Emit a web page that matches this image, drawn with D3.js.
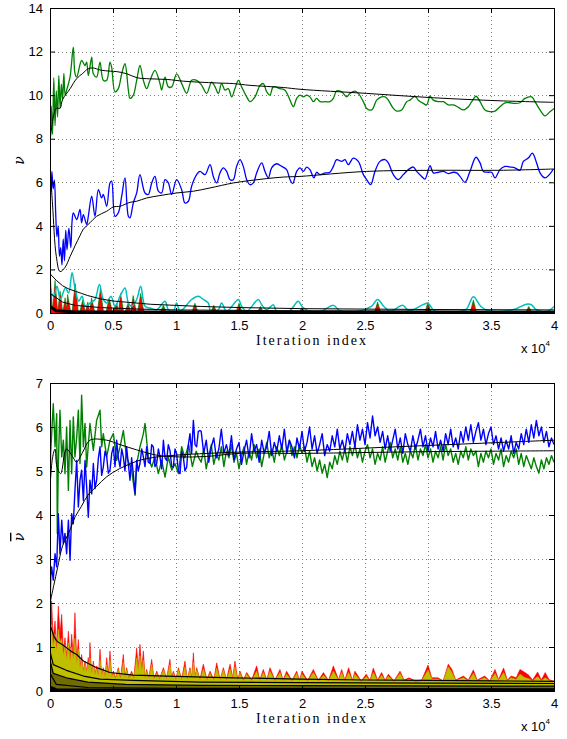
<!DOCTYPE html>
<meta charset="utf-8">
<style>
body { margin: 0; background: #fff; }
.tick text { font-family: "Liberation Sans", Arial, sans-serif; font-size: 13px; fill: #000; }
.tick line { stroke: #000; }
.grid { stroke: #7f7f7f; stroke-dasharray: 1,3; shape-rendering: crispEdges; }
.box { fill: none; stroke: #000; stroke-width: 1; shape-rendering: crispEdges; }
.xlabel { font-family: "Liberation Serif", "DejaVu Serif", serif; font-size: 14px; letter-spacing: 2px; }
.expo { font-family: "Liberation Sans", Arial, sans-serif; font-size: 13px; }
.ylabel { font-family: "DejaVu Serif", serif; font-style: italic; font-size: 14px; }
</style>
<svg width="567" height="739"></svg>
<script src="https://d3js.org/d3.v7.min.js"></script>
<script>

// ---- data (x in units of 10^4 iterations) ----
var xTicks = [0, 0.5, 1, 1.5, 2, 2.5, 3, 3.5, 4];
var xTickLabels = ["0", "0.5", "1", "1.5", "2", "2.5", "3", "3.5", "4"];
var yTicksTop = [0, 2, 4, 6, 8, 10, 12, 14];
var yTicksBot = [0, 1, 2, 3, 4, 5, 6, 7];

// top panel: nu
var nuGreen = [[0,7.8],[0.01,9.5],[0.02,8.2],[0.03,10.8],[0.04,8.6],[0.05,10.2],[0.06,9.0],[0.07,10.9],[0.08,9.4],[0.09,10.5],[0.1,9.8],[0.11,11.0],[0.12,10.0],
  [0.132,10.23],[0.159,10.83],[0.185,12.2],[0.198,11.0],[0.212,10.83],[0.251,11.59],[0.278,11.36],[0.291,11.52],[0.304,10.9],[0.331,11.74],[0.344,10.98],[0.37,10.83],
  [0.397,11.52],[0.423,10.68],[0.45,10.68],[0.476,11.52],[0.489,11.29],[0.516,10.15],[0.542,10.3],[0.569,10.98],[0.595,11.44],[0.622,10.23],[0.635,9.85],[0.661,10.0],
  [0.688,10.68],[0.714,11.36],[0.741,10.68],[0.767,10.3],[0.794,10.68],[0.833,11.14],[0.873,10.53],[0.886,10.23],[0.913,10.83],[0.939,10.38],[0.966,10.38],[1.005,10.98],
  [1.045,10.53],[1.085,10.08],[1.124,10.68],[1.164,10.68],[1.204,10.45],[1.243,10.08],[1.283,10.6],[1.31,10.38],[1.336,10.08],[1.362,10.53],[1.389,10.23],[1.415,10.3],
  [1.442,9.92],[1.468,10.3],[1.495,10.68],[1.521,10.38],[1.561,9.92],[1.587,9.7],[1.627,9.92],[1.667,10.45],[1.693,10.53],[1.72,10.15],[1.746,10.0],[1.772,10.38],
  [1.825,10.3],[1.865,10.23],[1.905,9.77],[1.931,9.47],[1.958,9.85],[1.984,10.0],[2.011,9.92],[2.037,10.0],[2.063,9.92],[2.09,9.7],[2.116,9.85],[2.143,9.7],[2.183,9.7],
  [2.222,9.7],[2.249,9.85],[2.275,10.2],[2.315,10.15],[2.354,9.92],[2.381,10.08],[2.421,10.18],[2.447,10.08],[2.487,9.7],[2.513,9.39],[2.553,9.32],[2.593,9.77],
  [2.632,9.92],[2.659,9.92],[2.685,9.77],[2.725,9.39],[2.751,9.27],[2.791,9.32],[2.831,9.7],[2.857,9.77],[2.897,9.95],[2.923,9.77],[2.963,9.62],[2.989,9.55],[3.016,9.95],
  [3.042,9.77],[3.082,9.7],[3.122,9.7],[3.161,9.55],[3.201,9.55],[3.241,9.44],[3.28,9.32],[3.32,9.47],[3.347,9.7],[3.381,9.95],[3.413,9.7],[3.452,9.32],[3.492,9.24],
  [3.532,9.27],[3.571,9.47],[3.611,9.65],[3.651,9.65],[3.69,9.62],[3.73,9.65],[3.77,9.85],[3.823,9.92],[3.849,9.7],[3.889,9.32],[3.929,9.05],[3.968,9.24],[4.0,9.39]];

var nuGreenMean = [[0,7.8],[0.02,8.8],[0.05,9.4],[0.08,9.4],[0.1,9.8],[0.16,10.3],[0.21,10.75],[0.26,11.0],[0.3,11.2],[0.34,11.25],[0.4,11.15],[0.48,11.1],
  [0.53,11.08],[0.61,10.98],[0.69,10.8],[0.79,10.75],[0.93,10.72],[1.06,10.64],[1.32,10.56],[1.455,10.53],[1.587,10.45],[1.852,10.35],[1.984,10.27],
  [2.513,10.08],[3.042,9.88],[3.571,9.74],[4.0,9.67]];

var nuBlue = [[0,6.3],[0.01,5.6],[0.015,6.5],[0.025,5.7],[0.035,6.1],[0.045,4.6],[0.055,3.5],[0.065,4.0],[0.075,2.6],[0.085,3.0],[0.095,2.2],[0.105,3.4],
  [0.115,2.4],[0.125,3.8],[0.135,2.9],[0.15,3.9],[0.165,3.0],[0.175,4.2],[0.185,4.6],[0.212,4.29],[0.238,4.75],[0.251,4.14],[0.265,4.52],[0.291,4.06],[0.304,4.44],
  [0.331,5.36],[0.357,4.44],[0.384,5.66],[0.41,5.28],[0.423,5.44],[0.45,4.9],[0.476,5.97],[0.489,6.05],[0.516,4.44],[0.542,4.6],[0.569,5.36],[0.595,6.2],[0.622,4.44],
  [0.635,4.37],[0.661,5.05],[0.688,5.51],[0.714,6.35],[0.754,5.51],[0.78,5.44],[0.807,5.97],[0.833,6.27],[0.86,5.59],[0.886,5.51],[0.913,6.12],[0.939,5.97],[0.966,5.44],
  [1.005,6.12],[1.045,5.66],[1.071,5.05],[1.098,5.13],[1.124,5.82],[1.164,6.35],[1.19,6.5],[1.23,6.35],[1.27,6.81],[1.296,6.27],[1.323,5.97],[1.349,6.43],[1.376,6.66],
  [1.402,6.5],[1.429,6.12],[1.455,6.12],[1.481,6.73],[1.508,7.04],[1.534,6.73],[1.561,6.12],[1.587,5.89],[1.614,5.97],[1.64,6.43],[1.68,6.89],[1.706,6.5],[1.733,6.2],
  [1.759,6.66],[1.799,6.85],[1.839,6.73],[1.878,6.58],[1.905,6.12],[1.926,5.94],[1.958,6.5],[1.984,6.66],[2.011,6.5],[2.037,6.7],[2.063,6.58],[2.095,6.2],[2.116,6.46],
  [2.143,6.35],[2.183,6.43],[2.222,6.46],[2.249,6.73],[2.275,7.04],[2.315,6.96],[2.341,7.04],[2.368,6.81],[2.407,7.11],[2.447,6.96],[2.487,6.35],[2.513,6.12],[2.545,5.89],
  [2.579,6.5],[2.619,6.96],[2.659,7.04],[2.685,6.89],[2.725,6.35],[2.765,6.12],[2.804,6.35],[2.844,6.58],[2.884,6.7],[2.91,6.5],[2.95,6.27],[2.976,6.15],[3.016,6.76],
  [3.042,6.43],[3.082,6.46],[3.122,6.5],[3.161,6.4],[3.201,6.46],[3.228,6.43],[3.254,6.27],[3.294,6.0],[3.333,6.5],[3.381,7.15],[3.413,6.89],[3.439,6.5],[3.479,6.46],
  [3.505,6.46],[3.532,6.2],[3.571,6.58],[3.611,6.73],[3.651,6.7],[3.69,6.66],[3.73,6.55],[3.757,6.96],[3.796,7.11],[3.828,7.34],[3.862,6.89],[3.889,6.43],[3.929,6.2],
  [3.963,6.35],[3.995,6.61]];

var nuBlueMean = [[0,6.8],[0.02,5.0],[0.05,2.6],[0.08,1.9],[0.12,2.1],[0.16,2.6],[0.2,3.1],[0.238,3.55],[0.265,3.85],[0.317,4.14],[0.37,4.44],[0.45,4.67],
  [0.503,4.87],[0.556,4.9],[0.635,5.08],[0.688,5.13],[0.767,5.28],[0.873,5.39],[1.005,5.51],[1.138,5.59],[1.27,5.74],[1.455,5.97],[1.587,6.08],[1.72,6.17],
  [1.852,6.24],[1.984,6.27],[2.513,6.5],[3.042,6.55],[3.571,6.55],[4.0,6.61]];

var nuCyan = [[0,1.6],[0.004,1.08],[0.03,0.77],[0.056,1.23],[0.082,0.62],[0.122,1.15],[0.148,0.92],[0.175,1.85],[0.2,1.08],[0.228,0.54],[0.254,0.77],[0.28,0.31],
  [0.32,0.46],[0.357,0.62],[0.392,1.31],[0.423,0.62],[0.45,0.46],[0.484,0.77],[0.516,0.31],[0.556,0.77],[0.595,1.15],[0.622,0.46],[0.648,0.31],[0.688,0.62],[0.72,1.23],
  [0.754,0.31],[0.794,0.23],[0.847,0.15],[0.913,0.54],[0.939,0.15],[0.979,0.08],[1.005,0.46],[1.032,0.08],[1.124,0.62],[1.177,0.77],[1.217,0.62],[1.257,0.46],[1.275,0.08],
  [1.336,0.15],[1.362,0.46],[1.402,0.08],[1.495,0.62],[1.521,0.31],[1.561,0.08],[1.653,0.62],[1.68,0.38],[1.72,0.15],[1.772,0.38],[1.799,0.08],[1.9,0.1],[1.97,0.54],
  [2.0,0.3],[2.05,0.1],[2.15,0.08],[2.25,0.35],[2.3,0.1],[2.45,0.08],[2.55,0.3],[2.6,0.62],[2.65,0.3],[2.7,0.08],[2.8,0.35],[2.85,0.1],[3.0,0.44],[3.05,0.1],[3.2,0.05],
  [3.3,0.15],[3.36,0.75],[3.42,0.3],[3.48,0.1],[3.6,0.08],[3.7,0.2],[3.78,0.4],[3.82,0.38],[3.86,0.15],[3.95,0.08],[4.0,0.3]];

var nuRedLow = [[0,1.5],[0.02,0.05],[0.022,0.05],[0.04,1.2],[0.058,0.05],[0.064,0.05],[0.08,0.8],[0.096,0.05],[0.106,0.05],[0.12,0.5],[0.13,0.1],[0.14,0.6],
  [0.16,0.03],[0.18,0.03],[0.2,1.1],[0.22,0.03],[0.24,0.03],[0.26,0.4],[0.28,0.03],[0.3,0.3],[0.315,0.03],[0.33,0.5],[0.35,0.03],[0.38,0.03],
  [0.4,0.9],[0.42,0.03],[0.45,0.03],[0.47,0.5],[0.49,0.03],[0.53,0.3],[0.545,0.03],[0.56,0.7],[0.58,0.03],[0.6,0.03],[0.62,0.3],[0.64,0.03],
  [0.66,0.6],[0.68,0.03],[0.7,0.03],[0.72,0.7],[0.74,0.03],[0.88,0.03],[0.9,0.2],[0.92,0.02],[1.13,0.02],[1.15,0.3],[1.17,0.02],[1.28,0.02],[1.3,0.25],
  [1.32,0.02],[1.48,0.02],[1.5,0.3],[1.52,0.02],[1.65,0.02],[1.67,0.2],[1.69,0.02],[1.98,0.02],[2.0,0.15],[2.02,0.02],[2.58,0.02],[2.6,0.4],[2.62,0.02],[2.98,0.02],
  [3.0,0.35],[3.02,0.02],[3.34,0.02],[3.36,0.45],[3.38,0.02],[3.78,0.02],[3.8,0.2],[3.82,0.02],[4,0.05]];

var nuGreenLow = [[0,1.9],[0.02,0.08],[0.022,0.08],[0.04,1.5],[0.06,0.08],[0.062,0.08],[0.08,1.0],[0.1,0.08],[0.104,0.08],[0.12,0.7],[0.13,0.15],[0.14,0.85],
  [0.165,0.05],[0.175,0.05],[0.2,1.35],[0.225,0.05],[0.235,0.05],[0.26,0.6],[0.28,0.05],[0.3,0.5],[0.315,0.05],[0.33,0.7],[0.355,0.05],[0.375,0.05],
  [0.4,1.1],[0.425,0.05],[0.445,0.05],[0.47,0.7],[0.495,0.05],[0.53,0.45],[0.545,0.05],[0.56,0.9],[0.585,0.05],[0.595,0.05],
  [0.62,0.45],[0.64,0.05],[0.66,0.8],[0.685,0.05],[0.695,0.05],[0.72,0.9],[0.745,0.05],[0.875,0.05],[0.9,0.35],[0.925,0.03],[1.125,0.03],[1.15,0.45],
  [1.175,0.03],[1.275,0.03],[1.3,0.35],[1.325,0.03],[1.475,0.03],[1.5,0.45],[1.525,0.03],[1.645,0.03],[1.67,0.3],[1.695,0.03],[1.975,0.03],[2.0,0.25],[2.025,0.03],
  [2.575,0.03],[2.6,0.5],[2.625,0.03],[2.975,0.03],[3.0,0.5],[3.025,0.03],[3.335,0.03],[3.36,0.6],[3.385,0.03],[3.775,0.03],[3.8,0.3],[3.825,0.03],[4,0.08]];

var nuLowMeanA = [[0,1.8],[0.05,1.5],[0.1,1.25],[0.15,1.1],[0.2,1.0],[0.25,0.9],[0.3,0.8],[0.4,0.65],[0.5,0.55],[0.6,0.5],[0.7,0.45],[0.8,0.4],[1,0.35],
  [1.2,0.3],[1.5,0.25],[2,0.2],[2.5,0.18],[3,0.16],[3.5,0.15],[4,0.14]];
var nuLowMeanB = [[0,0.9],[0.1,0.5],[0.2,0.35],[0.4,0.25],[0.7,0.18],[1,0.14],[2,0.1],[4,0.07]];
var nuZero = [[0,0.3],[0.05,0.1],[0.2,0.05],[4,0.03]];

// bottom panel: nu bar
var barGreen = [[0,4.6],[0.005,5.4],[0.026,6.53],[0.04,5.55],[0.053,6.3],[0.058,3.58],[0.066,5.17],[0.079,6.38],[0.093,5.32],[0.106,5.7],[0.119,4.94],
  [0.132,6.0],[0.146,4.56],[0.159,6.15],[0.172,4.94],[0.185,6.23],[0.198,5.32],[0.212,5.77],[0.225,6.38],[0.238,5.17],[0.251,6.72],[0.265,5.55],[0.278,6.08],
  [0.291,5.09],[0.317,6.08],[0.344,5.47],[0.37,6.15],[0.397,6.38],[0.41,5.55],[0.423,5.85],[0.45,5.32],[0.476,5.7],[0.503,5.85],[0.529,5.24],[0.556,5.55],[0.582,5.92],
  [0.608,5.32],[0.648,5.02],[0.675,4.45],[0.688,5.17],[0.714,5.55],[0.741,5.85],[0.754,6.08],[0.78,5.32],[0.807,5.09],[0.833,5.32],[0.86,4.94],[0.886,5.24],[0.913,4.86],
  [0.939,5.32],[0.966,5.02],[0.992,5.17],[1.019,4.94],[1.045,5.55],[1.07,5.3],[1.1,5.6],[1.13,5.1],[1.16,5.45],[1.18,5.3],
  [1.20,5.2],[1.22,5.5],[1.24,5.05],[1.26,5.35],[1.28,5.6],[1.30,5.15],[1.32,5.4],[1.34,5.25],[1.36,5.55],[1.38,5.1],[1.40,5.45],[1.42,5.3],[1.44,5.6],[1.46,5.2],
  [1.48,5.4],[1.50,5.05],[1.52,5.35],[1.54,5.55],[1.56,5.15],[1.58,5.45],[1.60,5.25],[1.62,5.6],[1.64,5.3],[1.66,5.5],[1.68,5.1],[1.70,5.4],[1.72,5.65],[1.74,5.3],
  [1.76,5.5],[1.78,5.2],[1.80,5.55],[1.82,5.35],[1.84,5.6],[1.86,5.25],[1.88,5.45],[1.90,5.7],[1.92,5.35],[1.94,5.55],[1.96,5.3],[1.98,5.6],[2.00,5.4],[2.02,5.55],
  [2.04,5.2],[2.06,5.45],[2.08,5.1],[2.10,5.3],[2.12,5.0],[2.14,5.25],[2.16,4.95],[2.18,5.15],[2.20,4.85],[2.22,5.2],[2.24,5.05],[2.26,5.35],[2.28,5.15],[2.30,5.45],
  [2.32,5.25],[2.34,5.5],[2.36,5.2],[2.38,5.55],[2.40,5.35],[2.42,5.6],[2.44,5.3],[2.46,5.5],[2.48,5.2],[2.50,5.45],[2.52,5.6],[2.54,5.3],[2.56,5.5],[2.58,5.15],
  [2.60,5.4],[2.62,5.25],[2.64,5.55],[2.66,5.2],[2.68,5.45],[2.70,5.65],[2.72,5.3],[2.74,5.5],[2.76,5.25],[2.78,5.55],[2.80,5.2],[2.82,5.4],[2.84,5.15],[2.86,5.45],
  [2.88,5.3],[2.90,5.6],[2.92,5.25],[2.94,5.5],[2.96,5.35],[2.98,5.6],[3.00,5.3],[3.02,5.5],[3.04,5.2],[3.06,5.45],[3.08,5.3],[3.10,5.55],[3.12,5.25],[3.14,5.6],
  [3.16,5.35],[3.18,5.5],[3.20,5.2],[3.22,5.4],[3.24,5.15],[3.26,5.45],[3.28,5.3],[3.30,5.55],[3.32,5.25],[3.34,5.5],[3.36,5.35],[3.38,5.45],[3.40,5.1],[3.42,5.4],
  [3.44,5.2],[3.46,5.45],[3.48,5.3],[3.50,5.5],[3.52,5.15],[3.54,5.4],[3.56,5.25],[3.58,5.5],[3.60,5.1],[3.62,5.35],[3.64,5.2],[3.66,5.45],[3.68,5.3],[3.70,5.5],
  [3.72,5.15],[3.74,5.4],[3.76,5.1],[3.78,5.35],[3.80,5.2],[3.82,5.05],[3.84,5.3],[3.86,5.1],[3.88,4.95],[3.90,5.25],[3.92,5.05],[3.94,5.3],[3.96,5.15],[3.98,5.35],
  [4.00,5.2]];

var barBlue = [[0,2.0],[0.006,2.6],[0.013,2.82],[0.026,2.52],[0.04,3.12],[0.053,2.82],[0.066,4.03],[0.079,3.12],[0.093,3.88],[0.106,3.35],[0.119,3.58],[0.132,3.12],
  [0.146,3.88],[0.159,2.97],[0.172,4.03],[0.185,3.8],[0.198,4.56],[0.212,5.24],[0.225,4.18],[0.238,4.79],[0.251,5.02],[0.265,4.33],[0.278,5.24],[0.291,4.64],[0.304,3.95],
  [0.317,4.79],[0.331,4.48],[0.344,5.17],[0.357,4.6],[0.37,4.79],[0.384,5.3],[0.397,5.55],[0.41,4.9],[0.423,5.09],[0.437,5.45],[0.45,5.32],[0.463,4.95],[0.476,5.02],
  [0.49,5.4],[0.503,5.55],[0.516,5.1],[0.529,5.7],[0.542,5.3],[0.556,5.09],[0.569,5.5],[0.582,5.32],[0.595,5.0],[0.608,5.55],[0.62,5.2],[0.635,4.79],[0.648,5.3],
  [0.661,4.94],[0.675,4.48],[0.688,5.24],[0.7,5.0],[0.714,5.17],[0.728,5.5],[0.741,5.32],[0.754,5.1],[0.767,5.55],[0.78,5.2],[0.794,5.17],[0.807,5.6],[0.82,5.55],
  [0.833,5.1],[0.847,5.17],[0.86,5.5],[0.873,5.32],[0.886,5.05],[0.9,5.7],[0.913,5.3],[0.926,5.24],[0.939,5.6],[0.952,5.47],[0.966,5.1],[0.979,5.09],[0.992,5.5],
  [1.005,5.39],[1.019,5.0],[1.032,4.94],[1.045,5.45],[1.058,5.32],[1.071,5.0],[1.085,5.09],[1.098,5.6],[1.111,5.85],[1.124,5.4],[1.138,6.15],[1.151,5.6],[1.164,5.55],
  [1.177,5.9],[1.19,5.92],
  [1.20,5.9],[1.22,5.4],[1.24,5.7],[1.26,5.2],[1.28,5.55],[1.30,5.75],[1.32,5.3],[1.34,5.5],[1.36,5.95],[1.38,5.4],[1.40,5.6],[1.42,5.35],[1.44,5.8],[1.46,5.25],
  [1.48,5.5],[1.50,5.65],[1.52,5.15],[1.54,5.45],[1.56,5.7],[1.58,5.3],[1.60,5.85],[1.62,5.45],[1.64,5.6],[1.66,5.2],[1.68,5.7],[1.70,5.4],[1.72,5.55],[1.74,5.9],
  [1.76,5.35],[1.78,5.65],[1.80,5.45],[1.82,5.8],[1.84,5.5],[1.86,5.95],[1.88,5.4],[1.90,5.7],[1.92,5.55],[1.94,5.3],[1.96,5.75],[1.98,5.5],[2.00,5.9],[2.02,5.45],
  [2.04,5.65],[2.06,6.0],[2.08,5.5],[2.10,5.8],[2.12,5.4],[2.14,5.6],[2.16,5.85],[2.18,5.35],[2.20,5.6],[2.22,5.45],[2.24,5.8],[2.26,5.55],[2.28,5.95],[2.30,5.5],
  [2.32,5.7],[2.34,5.45],[2.36,5.85],[2.38,5.6],[2.40,5.9],[2.42,5.55],[2.44,6.05],[2.46,5.7],[2.48,5.95],[2.50,5.6],[2.52,6.1],[2.54,5.75],[2.56,6.25],[2.58,5.8],
  [2.60,6.0],[2.62,5.65],[2.64,5.9],[2.66,5.5],[2.68,5.8],[2.70,5.45],[2.72,5.7],[2.74,5.95],[2.76,5.5],[2.78,5.75],[2.80,5.4],[2.82,5.85],[2.84,5.6],[2.86,5.45],
  [2.88,5.8],[2.90,5.5],[2.92,5.7],[2.94,5.95],[2.96,5.55],[2.98,5.8],[3.00,5.45],[3.02,5.75],[3.04,5.55],[3.06,5.9],[3.08,5.5],[3.10,5.7],[3.12,5.45],[3.14,5.85],
  [3.16,5.6],[3.18,5.95],[3.20,5.55],[3.22,5.75],[3.24,5.5],[3.26,5.9],[3.28,5.65],[3.30,6.0],[3.32,5.7],[3.34,6.05],[3.36,5.65],[3.38,5.9],[3.40,6.1],[3.42,5.7],
  [3.44,5.95],[3.46,5.6],[3.48,5.85],[3.50,6.0],[3.52,5.6],[3.54,5.8],[3.56,5.5],[3.58,5.75],[3.60,5.45],[3.62,5.7],[3.64,5.5],[3.66,5.8],[3.68,5.4],[3.70,5.65],
  [3.72,5.5],[3.74,5.85],[3.76,5.6],[3.78,5.95],[3.80,5.65],[3.82,6.05],[3.84,5.75],[3.86,6.15],[3.88,5.8],[3.90,6.0],[3.92,5.65],[3.94,5.9],[3.96,5.55],[3.98,5.75],
  [4.00,5.6]];

var barGreenMean = [[0,4.6],[0.02,5.3],[0.04,5.5],[0.055,5.1],[0.085,4.94],[0.13,5.5],[0.185,5.3],[0.21,5.2],[0.26,5.43],[0.317,5.7],[0.45,5.7],[0.556,5.6],
  [0.688,5.48],[0.847,5.36],[1.03,5.32],[1.24,5.33],[1.5,5.4],[2,5.4],[2.5,5.42],[3,5.44],[3.5,5.45],[4,5.46]];
var barBlueMean = [[0,2.0],[0.03,2.4],[0.06,2.8],[0.1,3.3],[0.15,3.6],[0.2,3.96],[0.25,4.2],[0.3,4.45],[0.37,4.65],[0.45,4.87],[0.55,5.05],[0.65,5.18],
  [0.72,5.25],[0.85,5.32],[1.0,5.36],[1.25,5.4],[1.5,5.43],[2,5.46],[2.5,5.52],[3,5.58],[3.5,5.64],[4,5.7]];

var barRed = [[0,0.4],[0.005,1.9],[0.013,2.05],[0.025,1.2],[0.04,1.59],[0.052,1.0],[0.066,1.93],[0.079,1.3],[0.093,1.74],[0.106,0.9],[0.119,1.21],[0.132,0.8],
  [0.146,1.36],[0.16,0.75],[0.172,1.29],[0.185,0.8],[0.198,1.78],[0.212,0.7],[0.225,1.17],[0.238,0.55],[0.251,0.83],[0.265,0.45],[0.278,0.68],[0.29,0.45],[0.304,0.76],
  [0.31,0.45],[0.317,1.1],[0.33,0.4],[0.344,0.68],[0.357,0.38],[0.37,0.57],[0.385,0.35],[0.397,0.95],[0.41,0.35],[0.423,0.53],[0.437,0.33],[0.45,0.76],[0.463,0.35],
  [0.476,0.91],[0.49,0.33],[0.503,0.45],[0.52,0.3],[0.542,0.53],[0.56,0.3],[0.582,0.83],[0.595,0.32],[0.608,0.53],[0.625,0.3],[0.648,0.45],[0.665,0.3],[0.688,0.98],
  [0.7,0.5],[0.714,1.06],[0.728,0.5],[0.741,0.91],[0.755,0.3],[0.767,0.49],[0.785,0.3],[0.807,0.72],[0.825,0.28],[0.847,0.45],[0.87,0.28],[0.9,0.53],[0.925,0.28],
  [0.952,0.72],[0.965,0.3],[0.979,0.45],[1.0,0.27],[1.019,0.53],[1.045,0.27],[1.071,0.68],[1.09,0.27],[1.111,0.53],[1.125,0.3],[1.138,0.87],[1.15,0.3],[1.164,0.53],
  [1.19,0.27],[1.217,0.61],[1.245,0.26],[1.27,0.45],[1.3,0.26],[1.323,0.64],[1.35,0.26],[1.376,0.53],[1.4,0.26],[1.429,0.61],[1.45,0.3],[1.468,0.68],[1.49,0.26],
  [1.508,0.45],[1.535,0.25],[1.561,0.42],[1.6,0.25],[1.64,0.57],[1.665,0.25],[1.693,0.49],[1.72,0.25],[1.746,0.53],[1.785,0.25],[1.825,0.49],[1.85,0.25],[1.878,0.45],
  [1.92,0.24],[1.958,0.45],[1.98,0.24],[2.0,0.45],[2.045,0.24],[2.09,0.49],[2.13,0.24],[2.17,0.42],[2.21,0.24],[2.249,0.57],[2.29,0.26],[2.315,0.49],[2.34,0.25],
  [2.37,0.53],[2.4,0.24],[2.42,0.45],[2.47,0.23],[2.51,0.38],[2.54,0.24],[2.566,0.52],[2.6,0.25],[2.632,0.42],[2.66,0.24],[2.685,0.38],[2.73,0.23],[2.778,0.45],
  [2.81,0.25],[2.85,0.3],[2.9,0.23],[2.95,0.25],[3.0,0.59],[3.03,0.3],[3.08,0.3],[3.12,0.23],[3.161,0.61],[3.19,0.49],[3.22,0.25],[3.28,0.34],[3.32,0.25],[3.36,0.48],
  [3.39,0.25],[3.45,0.34],[3.49,0.23],[3.532,0.49],[3.56,0.26],[3.6,0.52],[3.63,0.25],[3.66,0.34],[3.7,0.3],[3.73,0.49],[3.77,0.42],[3.8,0.36],[3.83,0.25],[3.87,0.43],
  [3.9,0.25],[3.93,0.42],[3.96,0.26],[4.0,0.22]];

var barYellow = [[0,4.6],[0.004,4.6],[0.006,1.4],[0.013,1.5],[0.025,1.0],[0.04,1.3],[0.052,0.9],[0.066,1.4],[0.079,1.1],[0.093,1.2],[0.106,0.8],[0.119,1.05],
  [0.132,0.7],[0.146,1.1],[0.16,0.65],[0.172,1.0],[0.185,0.7],[0.198,1.2],[0.212,0.6],[0.225,0.95],[0.238,0.5],[0.251,0.7],[0.265,0.42],[0.278,0.6],[0.29,0.42],
  [0.304,0.65],[0.31,0.42],[0.317,0.75],[0.33,0.38],[0.344,0.6],[0.357,0.36],[0.37,0.5],[0.385,0.33],[0.397,0.7],[0.41,0.33],[0.423,0.48],[0.437,0.31],[0.45,0.6],
  [0.463,0.33],[0.476,0.7],[0.49,0.31],[0.503,0.4],[0.52,0.28],[0.542,0.48],[0.56,0.28],[0.582,0.65],[0.595,0.3],[0.608,0.48],[0.625,0.28],[0.648,0.4],[0.665,0.28],
  [0.688,0.75],[0.7,0.45],[0.714,0.8],[0.728,0.45],[0.741,0.7],[0.755,0.28],[0.767,0.44],[0.785,0.28],[0.807,0.6],[0.825,0.26],[0.847,0.4],[0.87,0.26],[0.9,0.48],
  [0.925,0.26],[0.952,0.6],[0.965,0.28],[0.979,0.4],[1.0,0.25],[1.019,0.48],[1.045,0.25],[1.071,0.55],[1.09,0.25],[1.111,0.48],[1.125,0.28],[1.138,0.65],[1.15,0.28],
  [1.164,0.48],[1.19,0.25],[1.217,0.5],[1.245,0.24],[1.27,0.4],[1.3,0.24],[1.323,0.52],[1.35,0.24],[1.376,0.48],[1.4,0.24],[1.429,0.5],[1.45,0.28],[1.468,0.55],
  [1.49,0.24],[1.508,0.4],[1.535,0.23],[1.561,0.38],[1.6,0.23],[1.64,0.45],[1.665,0.23],[1.693,0.42],[1.72,0.23],[1.746,0.45],[1.785,0.23],[1.825,0.42],[1.85,0.23],
  [1.878,0.38],[1.92,0.22],[1.958,0.4],[1.98,0.22],[2.0,0.38],[2.045,0.22],[2.09,0.42],[2.13,0.22],[2.17,0.36],[2.21,0.22],[2.249,0.45],[2.29,0.24],[2.315,0.42],
  [2.34,0.23],[2.37,0.42],[2.4,0.22],[2.42,0.38],[2.47,0.21],[2.51,0.33],[2.54,0.22],[2.566,0.42],[2.6,0.23],[2.632,0.36],[2.66,0.22],[2.685,0.33],[2.73,0.21],
  [2.778,0.4],[2.81,0.23],[2.85,0.27],[2.9,0.21],[2.95,0.23],[3.0,0.48],[3.03,0.27],[3.08,0.27],[3.12,0.21],[3.161,0.55],[3.19,0.42],[3.22,0.23],[3.28,0.3],[3.32,0.23],
  [3.36,0.4],[3.39,0.23],[3.45,0.3],[3.49,0.21],[3.532,0.4],[3.56,0.24],[3.6,0.42],[3.63,0.23],[3.66,0.3],[3.7,0.26],[3.73,0.38],[3.77,0.3],[3.8,0.28],[3.83,0.23],
  [3.87,0.33],[3.9,0.23],[3.93,0.3],[3.96,0.24],[4.0,0.2]];

var barLowMeanC = [[0,1.5],[0.013,1.4],[0.03,1.25],[0.05,1.15],[0.07,1.1],[0.1,1.05],[0.132,0.98],[0.17,0.9],[0.212,0.83],[0.265,0.68],[0.37,0.53],[0.476,0.42],
  [0.661,0.36],[0.926,0.34],[1.455,0.3],[1.98,0.27],[2.5,0.25],[3,0.24],[3.5,0.23],[4,0.22]];
var barLowMeanD = [[0,0.9],[0.026,0.6],[0.13,0.47],[0.265,0.34],[0.397,0.27],[0.66,0.24],[1.19,0.2],[1.98,0.19],[3,0.18],[4,0.17]];
var barLowMeanE = [[0,0.7],[0.026,0.4],[0.13,0.3],[0.3,0.2],[0.6,0.15],[1.2,0.13],[2,0.12],[4,0.11]];
var barLowMeanF = [[0,0.4],[0.05,0.15],[0.3,0.08],[1,0.06],[4,0.05]];
var barZero = [[0,0.1],[0.05,0.04],[4,0.03]];

// ---- drawing ----
var svg = d3.select("svg");

function panel(id, box, yMax, yTicks, yLabel, overline, layers) {
  var x = d3.scaleLinear().domain([0, 4]).range([box.left, box.right]);
  var y = d3.scaleLinear().domain([0, yMax]).range([box.bottom, box.top]);
  var g = svg.append("g");

  g.append("clipPath").attr("id", id)
    .append("rect").attr("x", box.left).attr("y", box.top)
    .attr("width", box.right - box.left).attr("height", box.bottom - box.top);

  // dotted grid
  g.selectAll(".gx").data(xTicks.slice(1, -1)).enter().append("line")
      .attr("class", "grid")
      .attr("x1", function(d) { return Math.round(x(d)) + 0.5; })
      .attr("x2", function(d) { return Math.round(x(d)) + 0.5; })
      .attr("y1", box.top).attr("y2", box.bottom);
  g.selectAll(".gy").data(yTicks.slice(1, -1)).enter().append("line")
      .attr("class", "grid")
      .attr("y1", function(d) { return Math.round(y(d)) + 0.5; })
      .attr("y2", function(d) { return Math.round(y(d)) + 0.5; })
      .attr("x1", box.left).attr("x2", box.right);

  var plot = g.append("g").attr("clip-path", "url(#" + id + ")");

  layers.forEach(function(l) {
    var curve = l.smooth ? d3.curveCatmullRom.alpha(0.5) : d3.curveLinear;
    if (l.fill) {
      var area = d3.area().curve(curve)
        .x(function(d) { return x(d[0]); }).y0(y(0)).y1(function(d) { return y(d[1]); });
      plot.append("path").datum(l.data).attr("d", area)
        .attr("fill", l.fill).attr("stroke", l.stroke || "none").attr("stroke-width", l.width || 0.6);
    } else {
      var line = d3.line().curve(curve)
        .x(function(d) { return x(d[0]); }).y(function(d) { return y(d[1]); });
      plot.append("path").datum(l.data).attr("d", line)
        .attr("fill", "none").attr("stroke", l.stroke).attr("stroke-width", l.width || 1)
        .attr("stroke-linejoin", "round");
    }
  });

  // axes with inward ticks on all sides
  g.append("g").attr("transform", "translate(0," + box.bottom + ")")
    .call(d3.axisBottom(x).tickValues(xTicks).tickSize(-5).tickPadding(8)
      .tickFormat(function(d, i) { return xTickLabels[i]; }));
  g.append("g").attr("transform", "translate(0," + box.top + ")")
    .call(d3.axisTop(x).tickValues(xTicks).tickSize(-5).tickFormat(""));
  g.append("g").attr("transform", "translate(" + box.left + ",0)")
    .call(d3.axisLeft(y).tickValues(yTicks).tickSize(-5).tickPadding(7).tickFormat(d3.format("d")));
  g.append("g").attr("transform", "translate(" + box.right + ",0)")
    .call(d3.axisRight(y).tickValues(yTicks).tickSize(-5).tickFormat(""));
  g.selectAll(".domain").remove();

  g.append("rect").attr("class", "box")
    .attr("x", box.left + 0.5).attr("y", box.top + 0.5)
    .attr("width", box.right - box.left).attr("height", box.bottom - box.top);

  g.append("text").attr("class", "xlabel")
    .attr("x", (box.left + box.right) / 2 + 10).attr("y", box.bottom + 32)
    .attr("text-anchor", "middle").text("Iteration index");

  var ex = g.append("text").attr("class", "expo")
    .attr("x", box.right - 33).attr("y", box.bottom + 40);
  ex.append("tspan").text("x 10");
  ex.append("tspan").attr("dy", -7).attr("font-size", "8px").text("4");

  var yl = g.append("text").attr("class", "ylabel")
    .attr("transform", "translate(24," + ((box.top + box.bottom) / 2) + ") rotate(-90)")
    .attr("text-anchor", "middle");
  if (overline) yl.style("text-decoration", "overline");
  yl.text(yLabel);
}

panel("clipTop", {left: 50, right: 554, top: 8, bottom: 313}, 14, yTicksTop, "\u03bd", false, [
  {data: nuGreenLow, fill: "#008000", stroke: "#008000"},
  {data: nuRedLow, fill: "#ff0000", stroke: "#ff0000"},
  {data: nuCyan, stroke: "#00bfbf", width: 1.5, smooth: true},
  {data: nuLowMeanB, stroke: "#000", width: 1},
  {data: nuLowMeanA, stroke: "#000", width: 1},
  {data: nuGreen, stroke: "#008000", width: 1.3, smooth: true},
  {data: nuBlue, stroke: "#0000ff", width: 1.3, smooth: true},
  {data: nuGreenMean, stroke: "#000", width: 1, smooth: true},
  {data: nuBlueMean, stroke: "#000", width: 1, smooth: true},
  {data: nuZero, stroke: "#000", width: 3}
]);

panel("clipBot", {left: 50, right: 554, top: 383, bottom: 691}, 7, yTicksBot, "\u03bd", true, [
  {data: barRed, fill: "#ff0000", stroke: "#ff0000"},
  {data: barYellow, fill: "#bfbf00", stroke: "#bfbf00"},
  {data: barLowMeanE, fill: "#6f6c00"},
  {data: barLowMeanC, stroke: "#000", width: 1.2},
  {data: barLowMeanD, stroke: "#000", width: 1.2},
  {data: barLowMeanE, stroke: "#000", width: 1.2},
  {data: barLowMeanF, stroke: "#000", width: 1.2},
  {data: barZero, fill: "#000", stroke: "#000", width: 2},
  {data: barGreen, stroke: "#008000", width: 1.4},
  {data: barBlue, stroke: "#0000ff", width: 1.4},
  {data: barGreenMean, stroke: "#000", width: 1, smooth: true},
  {data: barBlueMean, stroke: "#000", width: 1, smooth: true}
]);

</script>
